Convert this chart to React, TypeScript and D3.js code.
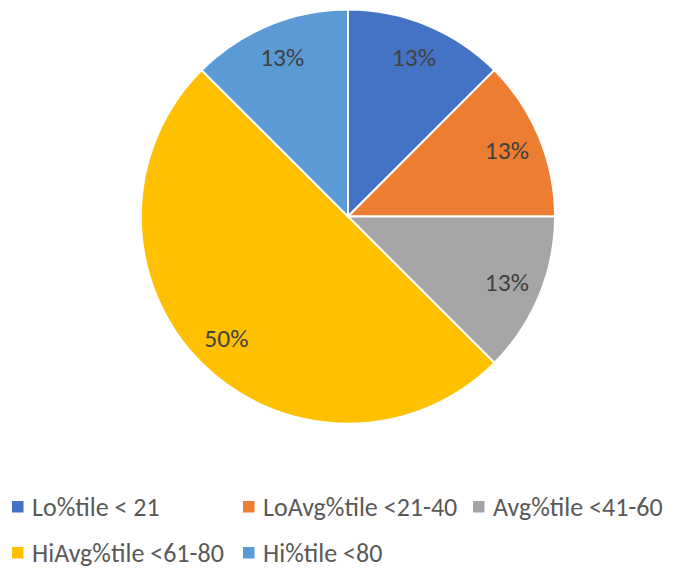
import React from "react";
import * as d3 from "d3";

const categories = ["Lo%tile < 21", "LoAvg%tile <21-40", "Avg%tile <41-60", "HiAvg%tile <61-80", "Hi%tile <80"];
const values = [1, 1, 1, 4, 1];
const colors = ["#4472C4", "#ED7D31", "#A5A5A5", "#FFC000", "#5B9BD5"];

const W = 674, H = 568;
const cx = 348, cy = 216.5, R = 207;
const FONT = "Carlito, Calibri, Lato, sans-serif";

const legendRows = [[0, 1, 2], [3, 4]];
const legendX = [12, 243, 473];
const legendY = [507, 553];

export default function App() {
  const pie = d3.pie<number>().sort(null).value((d) => d);
  const arcs = pie(values);
  const total = d3.sum(values);
  const arc = d3.arc<d3.PieArcDatum<number>>().innerRadius(0).outerRadius(R);
  const labelArc = d3.arc<d3.PieArcDatum<number>>().innerRadius(172).outerRadius(172);
  const fmt = d3.format(".0%");
  return (
    <svg width={W} height={H} style={{ position: "absolute", left: 0, top: 0, background: "#fff" }}>
      <g transform={`translate(${cx},${cy})`}>
        {arcs.map((a, i) => (
          <path key={i} d={arc(a) || ""} fill={colors[i]} stroke="#fff" strokeWidth={2} />
        ))}
        {arcs.map((a, i) => {
          const [x, y] = labelArc.centroid(a);
          return (
            <text key={i} x={x} y={y} textAnchor="middle" dominantBaseline="central"
              fontFamily={FONT} fontSize={25.5} fill="#404040">
              {fmt(Math.round((a.data / total) * 100) / 100)}
            </text>
          );
        })}
      </g>
      {legendRows.map((row, r) =>
        row.map((idx, c) => (
          <g key={idx} transform={`translate(${legendX[c]},${legendY[r]})`}>
            <rect x={0} y={-6} width={11.5} height={11.5} fill={colors[idx]} />
            <text x={20} y={0} dominantBaseline="central" fontFamily={FONT} fontSize={26} fill="#595959">
              {categories[idx]}
            </text>
          </g>
        ))
      )}
    </svg>
  );
}
